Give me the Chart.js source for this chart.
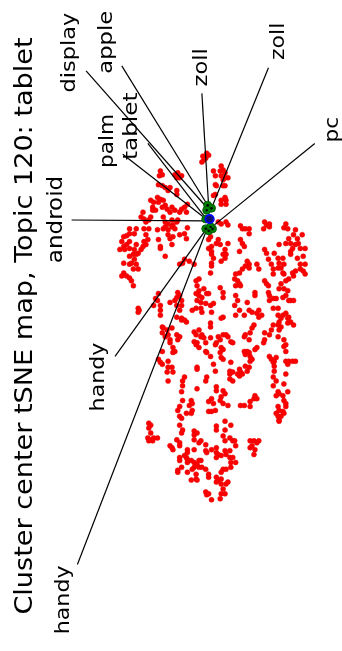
<!DOCTYPE html>
<html>
<head>
<meta charset="utf-8">
<script src="https://cdn.jsdelivr.net/npm/chart.js@4/dist/chart.umd.min.js"></script>
<style>
  html, body { margin: 0; padding: 0; background: #fff; }
  canvas { display: block; }
</style>
</head>
<body>
<canvas id="tsne" width="342" height="651"></canvas>
<script>
// tSNE coordinates of the cluster centres (map units, y grows downward)
const redPoints = [
  [204,153],[205,157],[207,155],[208,150],[203,159],[160,168],[159,173],[162,172],[175,172],[178,170],
  [182,173],[177,175],[180,175],[158,182],[162,183],[165,185],[170,185],[168,188],[177,188],[177,192],
  [157,195],[160,197],[158,200],[163,198],[165,203],[162,205],[167,207],[172,205],[175,208],[170,210],
  [150,198],[153,200],[152,205],[152,208],[155,208],[188,202],[185,205],[182,207],[180,210],[187,210],
  [142,210],[140,215],[143,217],[145,220],[150,215],[148,218],[163,215],[165,220],[168,222],[172,218],
  [173,223],[177,220],[178,218],[128,227],[135,227],[143,227],[148,227],[157,228],[163,227],[165,225],
  [168,228],[172,225],[175,227],[188,226],
  [210,152],[223,163],[225,167],[222,168],[223,173],[227,170],[215,168],[217,173],[230,175],[227,175],
  [225,177],[217,182],[218,183],[225,183],[227,183],[217,192],[215,193],[223,198],[223,202],[228,198],
  [228,202],[227,195],[220,220],[223,222],[228,220],[230,223],[243,224],[245,227],[252,227],[248,227],
  [268,220],[270,223],[273,222],[273,225],[267,227],[290,222],[288,226],[292,227],[300,228],
  [122,235],[125,234],[128,232],[133,232],[120,240],[122,245],[125,243],[128,240],[118,248],[123,248],
  [128,247],[135,243],[133,248],[137,252],[140,248],[142,245],[145,243],[143,240],[128,255],[132,253],
  [135,253],[133,258],[122,262],[128,263],[130,262],[135,263],[132,268],[137,268],[122,272],[120,275],
  [125,275],[128,277],[130,280],[132,285],[145,233],[147,238],[158,238],[160,245],[160,247],[165,255],
  [168,233],[170,237],[173,235],[180,233],[185,232],[187,237],[172,243],[180,263],[183,262],[185,258],
  [190,260],[195,263],[158,293],[155,298],[157,300],[160,305],[160,310],[160,315],[153,305],[137,308],
  [138,310],[137,312],[170,302],[175,300],[177,297],[178,292],[180,295],[182,300],[177,305],[182,305],
  [180,310],[197,280],[200,278],[198,285],[200,290],[205,288],[197,293],[200,295],[198,300],[202,302],
  [203,297],[208,293],[207,303],[197,308],[202,308],[203,312],[193,310],[177,317],[182,318],
  [212,235],[210,238],[213,245],[210,247],[213,250],[213,253],[215,257],[213,262],[213,265],[212,272],
  [218,242],[220,238],[222,243],[230,242],[227,248],[225,253],[227,257],[228,253],[223,260],[243,238],
  [245,242],[247,245],[242,250],[252,232],[268,248],[270,252],[272,258],[275,263],[277,268],[277,273],
  [282,257],[283,262],[278,252],[287,257],[288,263],[282,267],[285,267],[283,243],[290,242],[293,237],
  [298,233],[302,237],[307,233],[303,242],[300,243],[295,242],[297,247],[295,250],[295,253],[305,247],
  [310,247],[308,255],[302,257],[305,263],[310,263],[305,268],[308,270],[310,273],[300,270],[298,275],
  [297,272],[293,278],[290,280],[288,273],[287,272],[250,260],[252,263],[248,265],[252,267],[245,268],
  [242,272],[238,273],[237,278],[240,280],[242,283],[238,285],[243,285],[260,263],[262,268],[268,280],
  [270,283],[272,285],[258,292],[258,295],[272,292],[273,295],[273,300],[277,298],[280,298],[283,288],
  [285,283],[288,288],[292,290],[290,295],[287,297],[295,300],[298,300],[293,300],[282,308],[282,315],
  [277,308],[287,315],[290,313],[292,318],[293,317],[285,318],[210,293],[212,305],[215,303],[213,312],
  [222,287],[225,292],[225,297],[238,295],[240,300],[237,305],[242,310],[238,315],[250,302],[252,310],
  [255,312],[262,310],[260,313],[265,315],[262,317],[247,315],[225,317],[223,318],
  [162,327],[163,328],[162,333],[167,330],[168,335],[172,328],[170,340],[170,343],[165,337],[173,348],
  [175,352],[173,353],[162,352],[158,360],[160,363],[162,365],[168,362],[168,368],[167,373],[172,368],
  [173,373],[168,382],[182,320],[187,322],[185,320],[177,335],[180,337],[178,340],[195,332],[197,335],
  [200,330],[203,335],[202,337],[205,338],[195,342],[198,343],[200,348],[197,345],[207,343],[207,352],
  [208,353],[198,368],[198,370],[185,378],[183,382],[183,387],[182,393],[198,390],[183,402],[192,402],
  [193,405],[190,407],[180,408],[208,378],[207,382],[210,403],
  [212,323],[212,327],[212,338],[220,337],[222,340],[218,343],[217,345],[225,335],[228,335],[230,337],
  [233,342],[235,343],[223,348],[225,350],[222,353],[223,358],[225,360],[215,365],[217,372],[212,357],
  [233,363],[232,372],[232,375],[235,373],[232,380],[235,382],[242,370],[243,373],[242,377],[240,375],
  [245,375],[248,367],[252,368],[250,372],[253,362],[247,337],[248,335],[252,340],[253,333],[255,328],
  [257,325],[247,352],[250,352],[248,355],[252,353],[253,357],[258,350],[260,348],[255,360],[268,333],
  [267,343],[268,340],[273,335],[275,330],[277,325],[282,325],[283,330],[282,337],[285,327],[273,357],
  [275,360],[277,363],[278,362],[280,358],[278,367],[278,372],[277,378],[280,382],[277,387],[282,393],
  [283,395],[280,397],[287,397],[288,340],[290,345],[288,347],[290,352],[290,362],[293,362],[297,362],
  [300,362],[292,365],[290,375],[288,385],[292,393],[288,402],[290,405],[295,322],[298,325],[292,323],
  [283,322],[218,388],[218,392],[225,392],[227,395],[223,398],[222,402],[213,400],[215,405],[225,405],
  [230,407],[243,407],[247,407],[253,403],[257,400],[258,397],[260,400],[253,408],[282,408],[290,408],
  [148,425],[150,427],[148,430],[150,435],[147,440],[150,442],[153,440],[157,440],[152,443],[148,443],
  [170,448],[172,450],[173,452],[178,412],[180,418],[182,420],[180,427],[182,435],[183,432],[177,442],
  [180,445],[180,448],[187,415],[192,415],[193,412],[195,433],[195,437],[198,435],[195,442],[188,452],
  [188,455],[195,452],[200,445],[202,443],[207,447],[180,460],[180,463],[185,458],[187,460],[188,462],
  [188,465],[192,463],[182,470],[178,473],[178,475],[188,475],[195,465],[198,467],[202,463],[200,470],
  [195,470],[193,472],[203,470],[207,472],[197,477],[197,482],[192,483],[198,483],[200,463],[207,453],
  [208,455],[207,495],[208,498],
  [210,413],[213,413],[217,412],[280,415],[283,412],[287,413],[288,415],[282,418],[283,422],[285,418],
  [283,423],[227,423],[233,427],[218,428],[218,432],[227,432],[225,438],[227,443],[232,440],[235,443],
  [238,448],[237,443],[253,443],[257,443],[260,445],[253,450],[255,448],[258,452],[257,457],[262,443],
  [213,452],[218,450],[218,455],[220,457],[223,458],[227,453],[228,457],[232,453],[218,460],[232,460],
  [235,460],[233,465],[238,465],[233,470],[228,472],[225,472],[223,475],[218,480],[220,483],[223,482],
  [218,485],[223,487],[228,487],[230,485],[225,492],[223,497],[227,497],[210,477],[210,480],[210,497],
  [222,502],[213,503]
];

// centres of the topic words
const wordPoints = [[209,203],[213,206],[208,208],[207,217],[207,227],[210,229],[214,227],[212,225]];
const topicPoint = [[211,217]];

const words = ['display', 'apple', 'zoll', 'zoll', 'pc', 'tablet', 'palm', 'android', 'handy', 'handy'];
const wordFromX = [207, 209, 210, 213, 216, 207, 206, 206, 207, 208];
const wordFromY = [204, 203, 204, 206, 223, 216, 216, 219, 228, 228];
const wordToX = [83, 120, 203, 272, 320, 147, 121, 68, 113, 74];
const wordToY = [66, 61, 89, 63, 140, 140, 151, 218, 357, 569];

const titleText = 'Cluster center tSNE map, Topic 120: tablet';

// where the rotated texts sit: baseline x, start (bottom) y, end (top) y, font px
const labelLayout = {
  baseX: [72, 110, 208, 288, 344, 136, 111, 58, 102, 65],
  startY: [88, 69, 82, 55, 139, 157, 165, 262, 413, 640],
  endY: [7, 5, 43, 17, 113, 88, 110, 173, 343, 570],
  size: [20, 20, 19, 19, 20, 20, 20, 22, 20, 20]
};
const titleLayout = { baseX: 27, startY: 620, endY: 32, size: 25 };

const toXY = (p) => ({ x: p[0], y: p[1] });

const lineSets = words.map((w, i) => ({
  type: 'line',
  label: w,
  data: [{ x: wordFromX[i], y: wordFromY[i] }, { x: wordToX[i], y: wordToY[i] }],
  borderColor: '#000',
  borderWidth: 1.2,
  pointRadius: 0,
  fill: false,
  order: 4
}));

function drawVertical(ctx, text, x, y0, y1, size) {
  ctx.save();
  ctx.font = size + 'px "DejaVu Sans"';
  const w = ctx.measureText(text).width;
  const stretch = (y0 - y1) / w;
  ctx.translate(x, y0);
  ctx.rotate(-Math.PI / 2);
  ctx.scale(stretch, 1);
  ctx.textAlign = 'left';
  ctx.textBaseline = 'alphabetic';
  ctx.fillStyle = '#000';
  ctx.fillText(text, 0, 0);
  ctx.restore();
}

const textPlugin = {
  id: 'vtext',
  afterDatasetsDraw(chart) {
    const { ctx, scales } = chart;
    const px = (v) => scales.x.getPixelForValue(v);
    const py = (v) => scales.y.getPixelForValue(v);
    words.forEach((w, i) => {
      drawVertical(ctx, w, px(labelLayout.baseX[i]), py(labelLayout.startY[i]), py(labelLayout.endY[i]), labelLayout.size[i]);
    });
    drawVertical(ctx, titleText, px(titleLayout.baseX), py(titleLayout.startY), py(titleLayout.endY), titleLayout.size);
  }
};

new Chart(document.getElementById('tsne'), {
  type: 'scatter',
  data: {
    datasets: [
      {
        label: 'clusters',
        data: redPoints.map(toXY),
        backgroundColor: '#ff0000',
        borderColor: '#e00000',
        borderWidth: 0.5,
        pointRadius: 2.5,
        order: 5
      },
      ...lineSets,
      {
        label: 'words',
        data: wordPoints.map(toXY),
        backgroundColor: '#008000',
        borderColor: '#005000',
        borderWidth: 0.8,
        pointRadius: 4,
        order: 3
      },
      {
        label: 'word marks',
        data: wordPoints.map(toXY),
        backgroundColor: '#000',
        borderWidth: 0,
        pointRadius: 1.2,
        order: 2
      },
      {
        label: 'topic',
        data: topicPoint.map(toXY),
        backgroundColor: '#101070',
        borderColor: '#0000ff',
        borderWidth: 1.8,
        pointRadius: 4.2,
        order: 1
      }
    ]
  },
  options: {
    responsive: false,
    animation: false,
    devicePixelRatio: 1,
    layout: { padding: 0 },
    plugins: { legend: { display: false }, tooltip: { enabled: false }, title: { display: false } },
    scales: {
      x: { type: 'linear', min: 0, max: 342, display: false },
      y: { type: 'linear', min: 0, max: 651, reverse: true, display: false }
    }
  },
  plugins: [textPlugin]
});
</script>
</body>
</html>
